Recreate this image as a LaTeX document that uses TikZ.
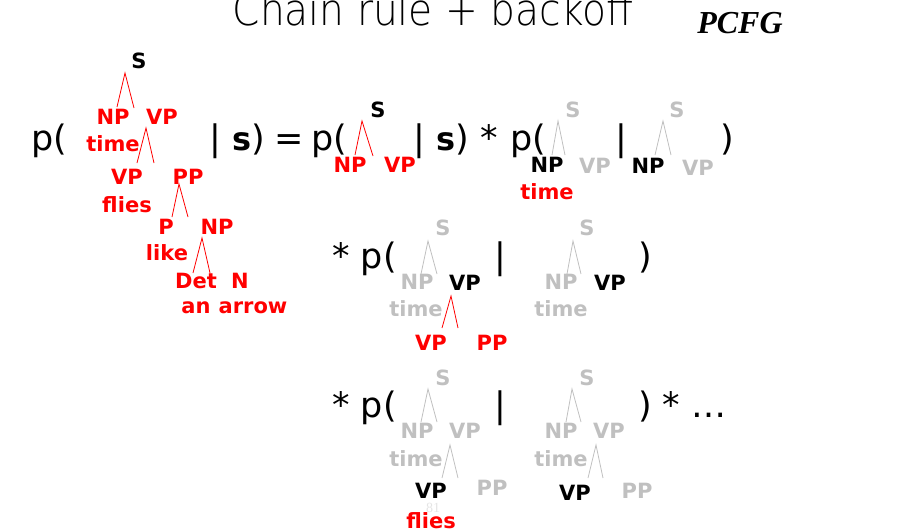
\documentclass[tikz,border=0pt]{standalone}
\usepackage{fontspec}
\setmainfont{DejaVu Sans}
\newfontfamily\titlefont[FakeStretch=0.89]{DejaVuSans-ExtraLight.ttf}
\newfontfamily\serifface{Liberation Serif}
\definecolor{treered}{RGB}{255,0,0}
\definecolor{fadegray}{RGB}{192,192,192}
\definecolor{pagegray}{RGB}{228,228,228}
\tikzset{cat/.style={inner sep=0pt, font=\bfseries\fontsize{21}{21}\selectfont},
    redcat/.style={cat, text=treered},
    graycat/.style={cat, text=fadegray},
    eq/.style={inner sep=0pt, anchor=base west, font=\fontsize{35}{35}\selectfont},
    }
\newcommand{\sentS}{{\bfseries\fontsize{32}{35}\selectfont s}}
% wedge under a category: name, apex, left foot, right foot, colour
\newcommand{\wedgelines}[5]{%
	\coordinate (#1Top) at #2;
	\coordinate (#1Left) at #3;
	\coordinate (#1Right) at #4;
	\draw[#5, line width=0.8pt] (#1Left) -- (#1Top) -- (#1Right);}

\begin{document}
\begin{tikzpicture}[x=1pt,y=-1pt]
	\clip (0,0) rectangle (920,531);
	\node[anchor=base, font=\titlefont\fontsize{44}{44}\selectfont] (title) at (433,25) {Chain rule + backoff};
	\node[font=\serifface\bfseries\itshape\fontsize{32}{32}\selectfont] (pcfg) at (740,23) {PCFG};

	% full tree
	\node[eq] (openA) at (31,150) {p(};
	\node[cat] (sTop) at (139,61) {S};
	\node[redcat] (npSubj) at (113,117) {NP};
	\node[redcat] (vpMain) at (162,117) {VP};
	\node[redcat] (timeWord) at (113,144) {time};
	\node[redcat] (vpLow) at (127,177) {VP};
	\node[redcat] (ppMod) at (188,177) {PP};
	\node[redcat] (fliesWord) at (127,205) {flies};
	\node[redcat] (pPrep) at (166,227) {P};
	\node[redcat] (npObj) at (217,227) {NP};
	\node[redcat] (likeWord) at (167,253) {like};
	\node[redcat] (detWord) at (196,281) {Det};
	\node[redcat] (nWord) at (240,281) {N};
	\node[redcat] (anWord) at (196,308) {an};
	\node[redcat] (arrowWord) at (253,308) {arrow};
	\wedgelines{sTop}{(125,73)}{(117,107)}{(134,108)}{treered}
	\wedgelines{vpMain}{(146,128)}{(137,163)}{(154,163)}{treered}
	\wedgelines{ppMod}{(179,184)}{(172,217)}{(188,217)}{treered}
	\wedgelines{npObj}{(202,238)}{(193,273)}{(210,273)}{treered}

	% first factor
	\node[eq] (condA) at (209,150) {| \sentS)\hspace{10pt}=};
	\node[eq] (openB) at (311,150) {p(};
	\node[cat] (sOne) at (378,110) {S};
	\node[redcat] (npOne) at (350,165) {NP};
	\node[redcat] (vpOne) at (400,165) {VP};
	\wedgelines{sOne}{(362,121)}{(355,155)}{(373,156)}{treered}

	% second factor
	\node[eq] (condB) at (413,150) {| \sentS)\hspace{12pt}*};
	\node[eq] (openC) at (510,150) {p(};
	\node[graycat] (sTwo) at (573,110) {S};
	\node[cat] (npTwo) at (547,165) {NP};
	\node[graycat] (vpTwo) at (595,166) {VP};
	\node[redcat] (timeTwo) at (547,192) {time};
	\wedgelines{sTwo}{(558,121)}{(552,155)}{(565,155)}{fadegray}
	\node[eq] (barC) at (615,150) {|};
	\node[graycat] (sThree) at (677,110) {S};
	\node[cat] (npThree) at (648,166) {NP};
	\node[graycat] (vpThree) at (698,168) {VP};
	\wedgelines{sThree}{(663,121)}{(655,155)}{(671,155)}{fadegray}
	\node[eq] (closeC) at (720,150) {)};

	% third factor
	\node[eq] (starD) at (332,268) {* p(};
	\node[graycat] (sFour) at (443,228) {S};
	\node[graycat] (npFour) at (417,282) {NP};
	\node[cat] (vpFour) at (465,283) {VP};
	\node[graycat] (timeFour) at (416,309) {time};
	\node[redcat] (vpFourL) at (431,343) {VP};
	\node[redcat] (ppFour) at (492,343) {PP};
	\wedgelines{sFour}{(428,241)}{(421,274)}{(437,274)}{fadegray}
	\wedgelines{vpFour}{(451,296)}{(442,328)}{(458,328)}{treered}
	\node[eq] (barD) at (494,268) {|};
	\node[graycat] (sFive) at (587,228) {S};
	\node[graycat] (npFive) at (561,282) {NP};
	\node[cat] (vpFive) at (610,283) {VP};
	\node[graycat] (timeFive) at (561,309) {time};
	\wedgelines{sFive}{(573,241)}{(567,274)}{(581,274)}{fadegray}
	\node[eq] (closeD) at (638,268) {)};

	% fourth factor
	\node[eq] (starE) at (332,417) {* p(};
	\node[graycat] (sSix) at (443,378) {S};
	\node[graycat] (npSix) at (417,431) {NP};
	\node[graycat] (vpSix) at (465,431) {VP};
	\node[graycat] (timeSix) at (416,459) {time};
	\node[text=pagegray, font=\serifface\fontsize{14}{14}\selectfont] (pageNum) at (433,508) {81};
	\node[cat] (vpSixL) at (431,491) {VP};
	\node[graycat] (ppSix) at (492,488) {PP};
	\node[redcat] (fliesSix) at (431,521) {flies};
	\wedgelines{sSix}{(428,389)}{(421,422)}{(437,422)}{fadegray}
	\wedgelines{vpSix}{(450,445)}{(442,478)}{(458,478)}{fadegray}
	\node[eq] (barE) at (494,417) {|};
	\node[graycat] (sSeven) at (587,378) {S};
	\node[graycat] (npSeven) at (561,431) {NP};
	\node[graycat] (vpSeven) at (609,431) {VP};
	\node[graycat] (timeSeven) at (561,459) {time};
	\node[cat] (vpSevenL) at (575,493) {VP};
	\node[graycat] (ppSeven) at (637,491) {PP};
	\wedgelines{sSeven}{(572,389)}{(566,422)}{(581,422)}{fadegray}
	\wedgelines{vpSeven}{(596,445)}{(588,478)}{(603,478)}{fadegray}
	\node[eq] (closeE) at (638,417) {) * \ldots};
\end{tikzpicture}
\end{document}
